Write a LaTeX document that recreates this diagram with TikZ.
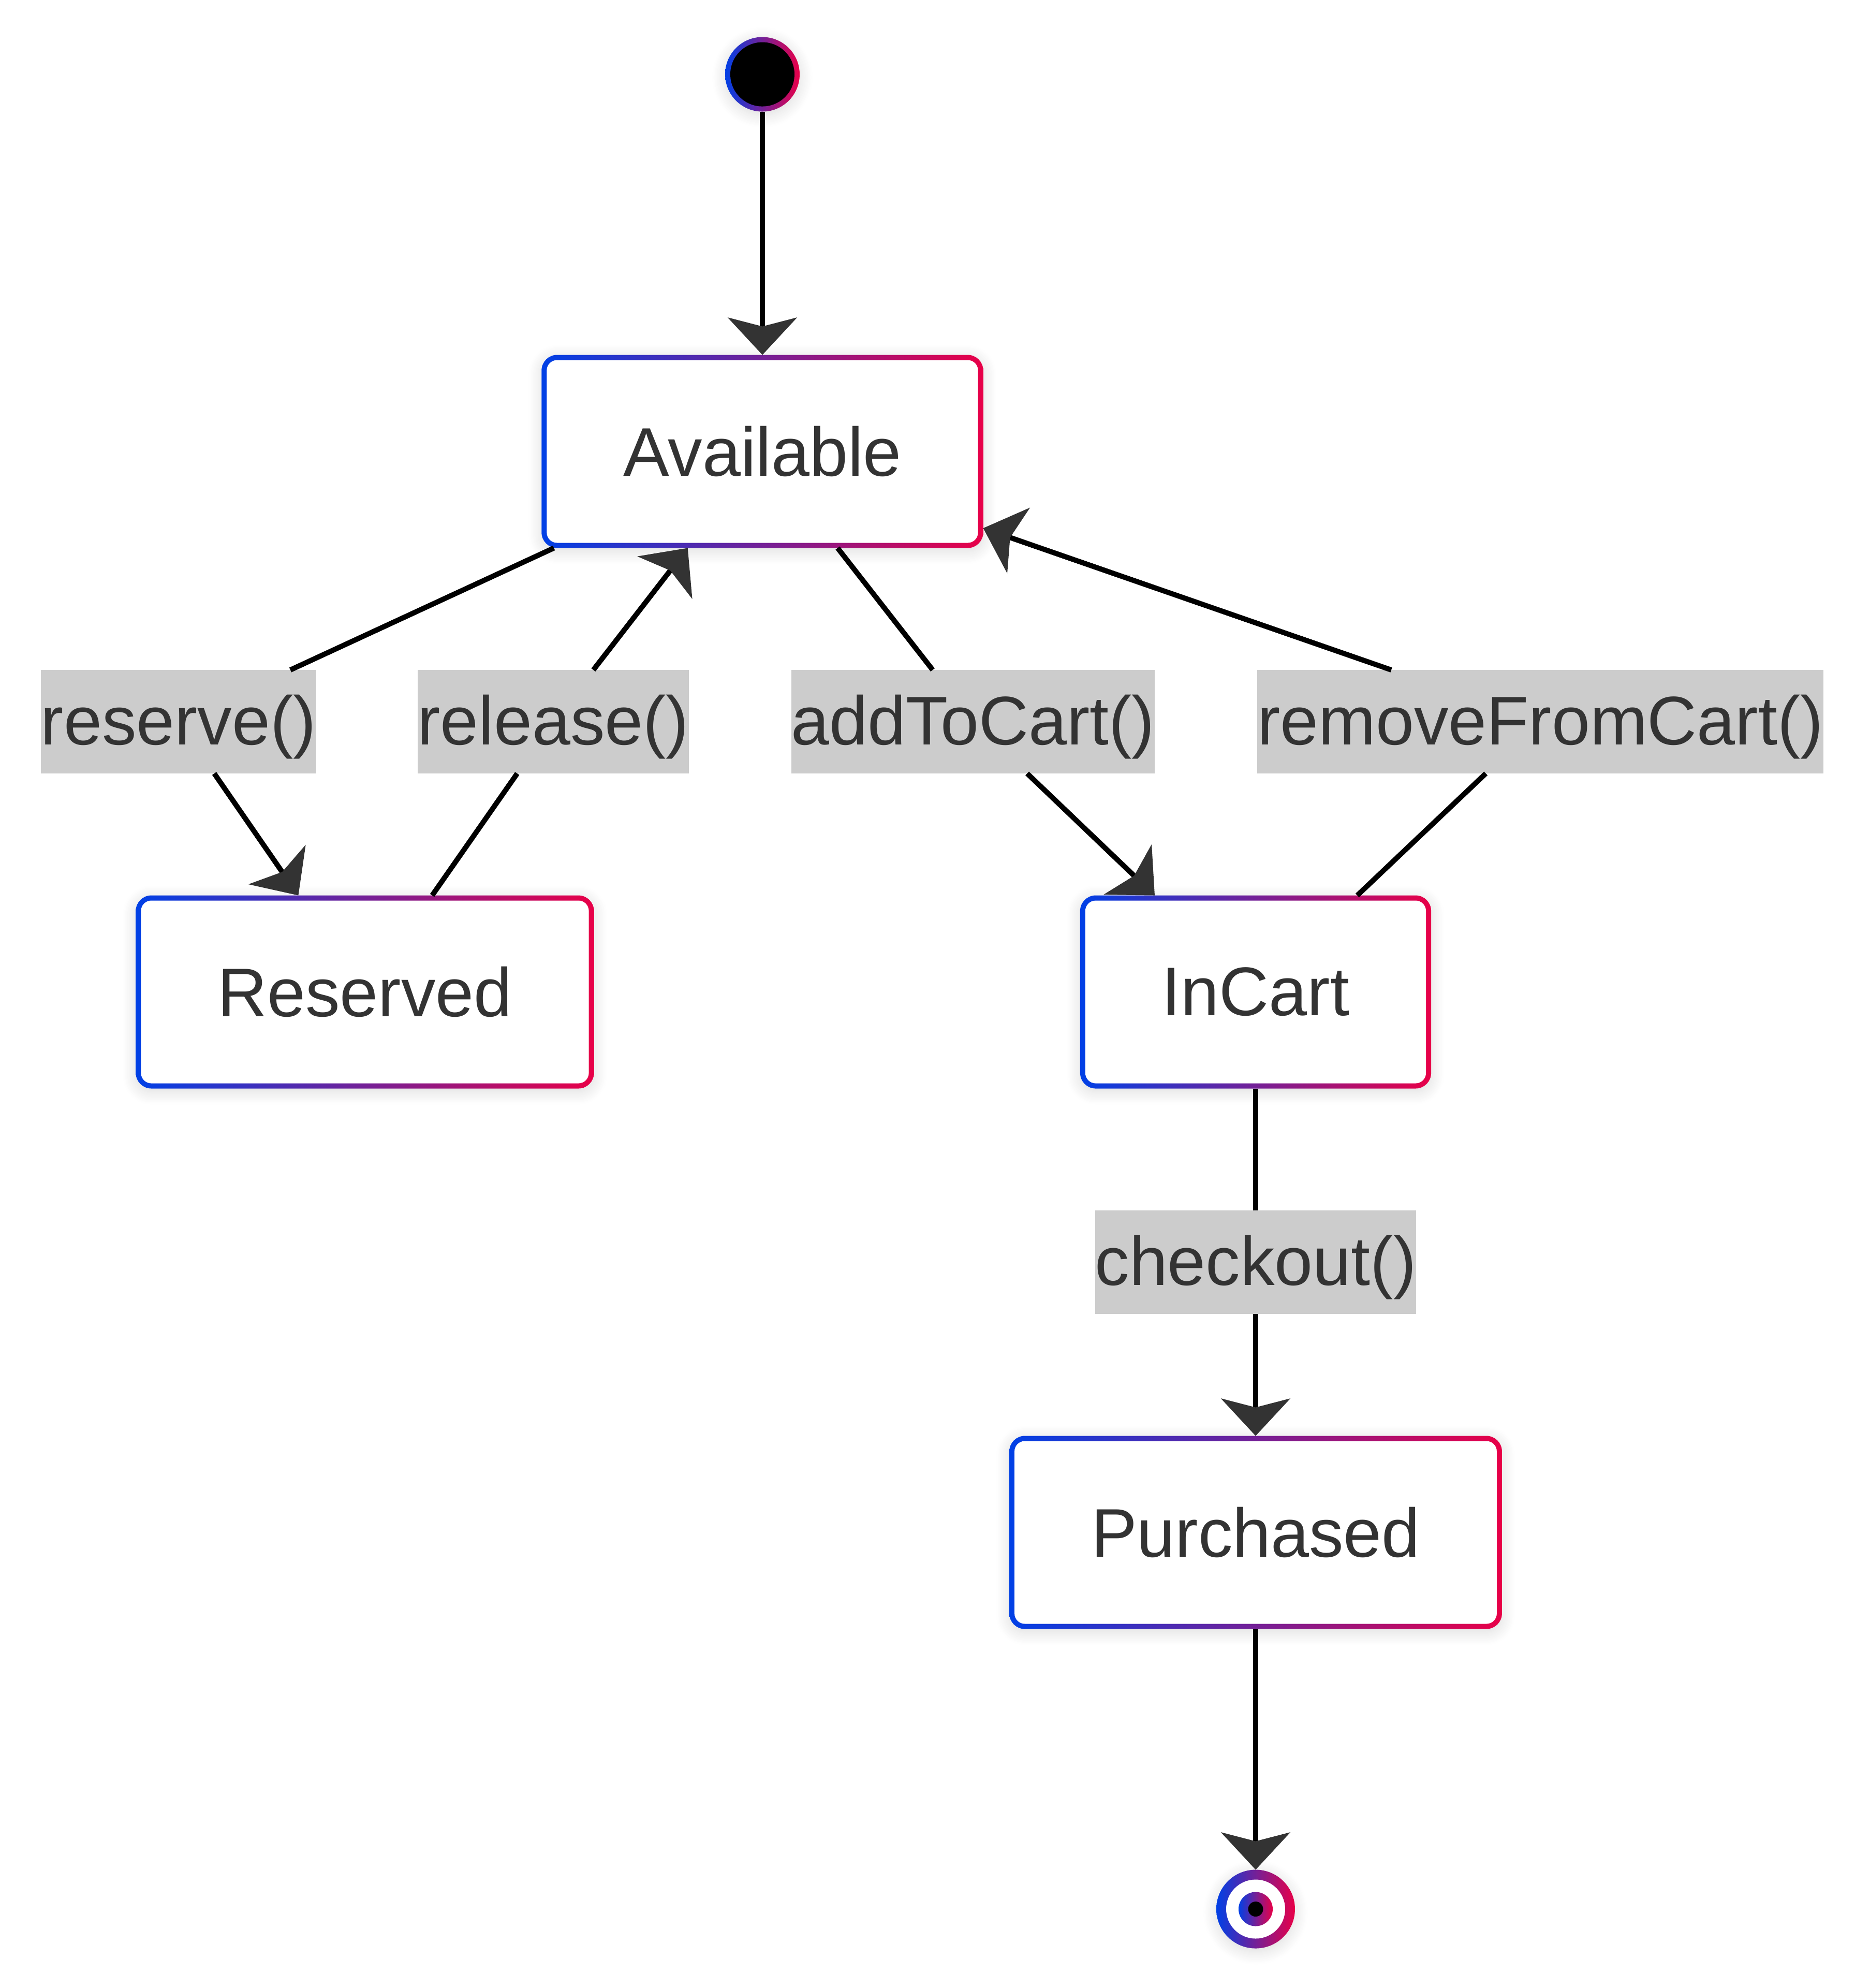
\documentclass[tikz,border=0pt]{standalone}
\usepackage{fontspec}
\setmainfont{Liberation Sans}
\usepackage{tikz}
\usetikzlibrary{arrows.meta}
\usetikzlibrary{positioning}
\usetikzlibrary{shadows.blur}
\definecolor{stblue}{RGB}{0,64,230}
\definecolor{stred}{RGB}{232,0,72}
\definecolor{txtgray}{RGB}{51,51,51}
\definecolor{lblgray}{RGB}{204,204,204}
\tikzset{
  soft/.style={blur shadow={shadow xshift=0pt, shadow yshift=-0.6pt, shadow blur radius=2.5pt,
    shadow blur steps=12, shadow opacity=14}},
  state/.style={rectangle, rounded corners=3pt, minimum height=37.3pt, inner xsep=15.8pt, outer sep=0pt,
    left color=stblue, right color=stred, text=txtgray, font=\fontsize{13.3}{16}\selectfont, soft,
    path picture={\fill[white, rounded corners=2pt]
      ([shift={(1pt,1pt)}]path picture bounding box.south west) rectangle
      ([shift={(-1pt,-1pt)}]path picture bounding box.north east);}},
  initial/.style={circle, minimum size=14.4pt, inner sep=0pt, outer sep=0pt,
    left color=stblue, right color=stred, soft,
    path picture={\fill[black] (path picture bounding box.center) circle (6.2pt);}},
  final/.style={circle, minimum size=15.2pt, inner sep=0pt, outer sep=0pt,
    left color=stblue, right color=stred, soft,
    path picture={\fill[white] (path picture bounding box.center) circle (5.7pt);
      \shade[left color=stblue, right color=stred] (path picture bounding box.center) circle (3.3pt);
      \fill[black] (path picture bounding box.center) circle (1.45pt);}},
  lbl/.style={fill=lblgray, text=txtgray, inner xsep=0pt, inner ysep=0pt, outer sep=0pt,
    minimum height=20pt, text height=11.7pt, text depth=2.8pt, font=\fontsize{13.3}{16}\selectfont},
  trans/.style={draw=black, line width=1pt,
    -{Stealth[length=7.2pt, width=13.3pt, inset=1.7pt, color=txtgray]}}
}
\begin{document}
\begin{tikzpicture}
          \useasboundingbox (0,0) rectangle (361.3pt,-384pt);
          \node (start) [initial] at (147.3pt,-14.35pt) {};
          \node (avail) [state, below = 47pt of start] {Available};
          \node (reserved) [state, below = 67.1pt of avail, xshift=-76.8pt] {Reserved};
          \node (incart) [state, below = 67.1pt of avail, xshift=95.3pt] {InCart};
          \node (purchased) [state, below = 67.1pt of incart] {Purchased};
          \node (end) [final, below = 46.5pt of purchased] {};

          \node (lreserve) [lbl, below = 23.55pt of avail, xshift=-112.8pt] {reserve()};
          \node (lrelease) [lbl, below = 23.55pt of avail, xshift=-40.4pt] {release()};
          \node (ladd) [lbl, below = 23.55pt of avail, xshift=40.7pt] {addToCart()};
          \node (lremove) [lbl, below = 23.55pt of avail, xshift=150.3pt] {removeFromCart()};
          \node (lcheckout) [lbl, below = 23.55pt of incart] {checkout()};

          \draw[trans] (start) -- (avail);
          \draw[trans] (avail) -- (lreserve) -- (reserved);
          \draw[trans] (reserved) -- (lrelease) -- (avail);
          \draw[trans] (avail) -- (ladd) -- (incart);
          \draw[trans] (incart) -- (lremove) -- (avail);
          \draw[trans] (incart) -- (lcheckout) -- (purchased);
          \draw[trans] (purchased) -- (end);
        \end{tikzpicture}
\end{document}
